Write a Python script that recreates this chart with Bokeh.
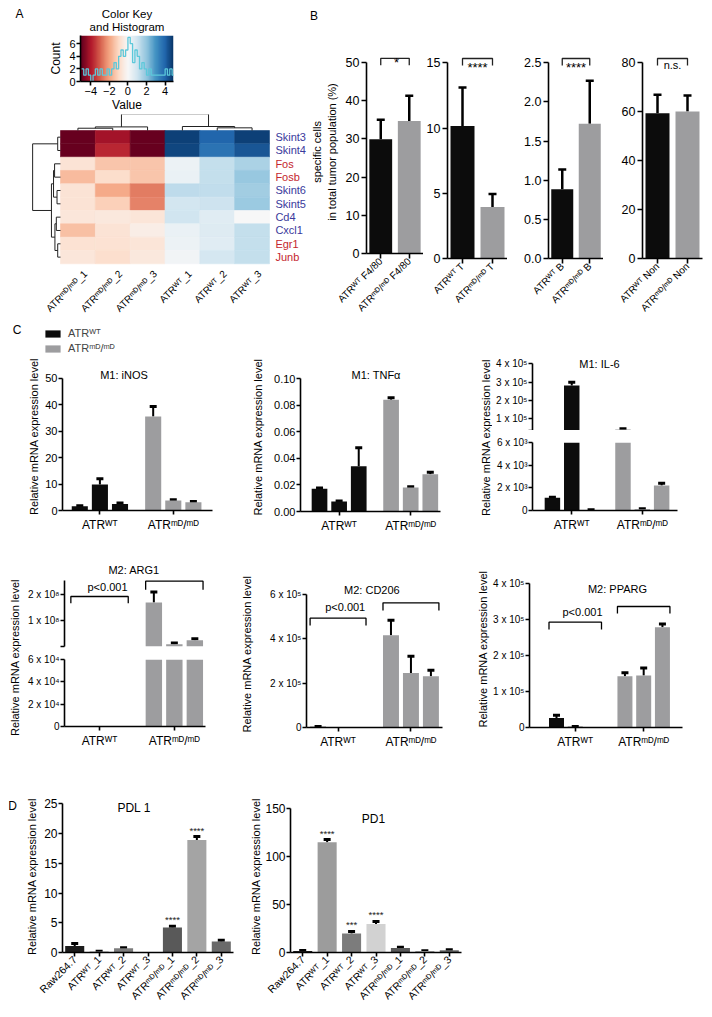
import math
import numpy as np
from bokeh.plotting import figure
from bokeh.layouts import row, column
from bokeh.models import (ColumnDataSource, FactorRange, Range1d, FixedTicker, Whisker,
                          TeeHead, Label, Legend, LegendItem, LinearColorMapper,
                          LinearAxis, CategoricalAxis, Spacer)
from bokeh.transform import linear_cmap
from bokeh.embed import file_html
from bokeh.resources import INLINE
from bokeh.core.properties import value

WT = "ATRᵂᵀ"
MD = "ATRᵐᴰ/ᵐᴰ"

# ===================== DATA =====================
# ---- Panel A : heatmap ----
hm_genes = ["Skint3", "Skint4", "Fos", "Fosb", "Skint6", "Skint5", "Cd4", "Cxcl1", "Egr1", "Junb"]
hm_gene_dir = ["blue", "blue", "red", "red", "blue", "blue", "blue", "blue", "red", "red"]
hm_samples = [MD + "_1", MD + "_2", MD + "_3", WT + "_1", WT + "_2", WT + "_3"]
hm_values = [
    [-5.0, -4.2, -5.0, 4.7, 4.0, 4.7],
    [-5.0, -3.8, -5.0, 4.6, 3.7, 4.3],
    [-0.7, -1.4, -1.4, 0.3, 1.2, 1.6],
    [-1.6, -0.9, -1.4, 0.35, 1.2, 1.9],
    [-0.7, -1.9, -2.6, 1.3, 1.25, 1.75],
    [-0.7, -1.2, -2.5, 0.95, 1.05, 1.85],
    [-0.6, -0.55, -0.65, 1.0, 0.6, 0.0],
    [-1.5, -0.7, -0.35, 0.35, 0.65, 1.2],
    [-0.75, -0.75, -0.65, 0.3, 0.6, 1.2],
    [-0.6, -0.85, -0.55, 0.15, 0.9, 1.2],
]
hist_start = -5.0
hist_step = 0.25
hist_counts = [2, 1, 2, 1, 0, 1, 2, 1, 2, 1, 1, 2, 1, 2, 3, 2, 4, 5, 4, 5,
               7, 6, 3, 5, 4, 2, 3, 2, 1, 2, 1, 1, 1, 1, 1, 1, 2, 1, 2, 1]
# (child a, child b, merge height) ; sample columns
col_linkage = [(0, 1, 0.17), (6, 2, 0.27), (4, 5, 0.2), (3, 8, 0.3), (7, 9, 1.24)]
# gene rows
row_linkage = [(0, 1, 0.08), (2, 3, 0.17), (4, 5, 0.1), (11, 12, 0.2), (6, 7, 0.12),
               (8, 9, 0.08), (14, 15, 0.16), (13, 16, 0.26), (10, 17, 0.8)]

# ---- Panel B ----
b_cells = ["F4/80", "T", "B", "Non"]
b_wt = [29.9, 10.15, 0.886, 59.4]
b_wt_err = [5.1, 2.95, 0.25, 7.5]
b_md = [34.7, 3.95, 1.72, 60.1]
b_md_err = [6.6, 1.0, 0.55, 6.5]
b_sig = ["*", "****", "****", "n.s."]
b_ymax = [50, 15, 2.5, 80]
b_ticks = [[0, 10, 20, 30, 40, 50], [0, 5, 10, 15], [0, 0.5, 1, 1.5, 2, 2.5], [0, 20, 40, 60, 80]]
b_tick_labels = [None, None, ["0.0", "0.5", "1.0", "1.5", "2.0", "2.5"], None]

# ---- Panel C ----
c_groups = [WT, MD]
inos_wt, inos_wt_err = [1.6, 9.8, 2.5], [0.2, 2.2, 0.3]
inos_md, inos_md_err = [35.5, 3.8, 3.1], [3.8, 0.3, 0.3]
tnf_wt, tnf_wt_err = [0.0171, 0.0075, 0.034], [0.0005, 0.0004, 0.014]
tnf_md, tnf_md_err = [0.084, 0.018, 0.028], [0.0015, 0.0007, 0.0015]
il6_wt, il6_wt_err = [1115.0, 282000.0, 50.0], [60.0, 18000.0, 10.0]
il6_md, il6_md_err = [42000.0, 120.0, 2200.0], [3000.0, 30.0, 200.0]
arg1_wt, arg1_wt_err = [8.0, 5.0, 6.0], [0.0, 0.0, 0.0]
arg1_md, arg1_md_err = [1.69e8, 0.09e8, 0.24e8], [0.41e8, 0.05e8, 0.06e8]
cd206_wt, cd206_wt_err = [3000.0, 300.0, 200.0], [1000.0, 0.0, 0.0]
cd206_md, cd206_md_err = [4.16e5, 2.46e5, 2.31e5], [0.68e5, 0.75e5, 0.27e5]
pparg_wt, pparg_wt_err = [0.26e5, 0.02e5, 0.004e5], [0.08e5, 0.005e5, 0.0]
pparg_md, pparg_md_err = [1.42e5, 1.44e5, 2.78e5], [0.10e5, 0.21e5, 0.09e5]

# ---- Panel D ----
d_samples = ["Raw264.7", WT + "_1", WT + "_2", WT + "_3", MD + "_1", MD + "_2", MD + "_3"]
pdl1 = [1.1, 0.15, 0.7, 0.0, 4.2, 18.9, 1.85]
pdl1_err = [0.4, 0.05, 0.1, 0.0, 0.2, 0.6, 0.2]
pdl1_sig = ["", "", "", "", "****", "****", ""]
pd1 = [1.5, 115.0, 19.9, 29.7, 4.6, 1.5, 2.3]
pd1_err = [0.5, 2.9, 2.1, 2.7, 0.9, 0.3, 0.5]
pd1_sig = ["", "****", "***", "****", "", "", ""]

# ===================== STYLE / HELPERS =====================
FONT = "Liberation Sans"
BLACK = "#0c0c0c"
GREY = "#9d9d9f"
D_COLORS = ["#1c1c1c", "#9c9c9c", "#7c7c7c", "#d2d2d2", "#595959", "#a4a4a4", "#6a6a6a"]
GENE_COLORS = {"blue": "#3a3a9c", "red": "#c4262e"}
RDBU = ['#67001f', '#b2182b', '#d6604d', '#f4a582', '#fddbc7', '#f7f7f7',
        '#d1e5f0', '#92c5de', '#4393c3', '#2166ac', '#053061']


def interp_palette(anchors, n):
    rgb = np.array([[int(c[i:i + 2], 16) for i in (1, 3, 5)] for c in anchors], float)
    out = []
    for tt in np.linspace(0, len(anchors) - 1, n):
        i = min(int(tt), len(anchors) - 2)
        f = tt - i
        c = rgb[i] * (1 - f) + rgb[i + 1] * f
        out.append('#%02x%02x%02x' % tuple(int(round(v)) for v in c))
    return out


PAL = interp_palette(RDBU, 201)


def mkfig(fx, fy, fr, xr, yr):
    x0, x1 = fx
    y0, y1 = fy
    l, r, t, b = fr
    p = figure(width=x1 - x0, height=y1 - y0, x_range=xr, y_range=yr,
               x_axis_type=None, y_axis_type=None, title=None,
               output_backend="svg", toolbar_location=None,
               min_border_left=l - x0, min_border_right=x1 - r,
               min_border_top=t - y0, min_border_bottom=y1 - b)
    try:
        p.frame_align = False
    except Exception:
        pass
    p.outline_line_color = None
    p.background_fill_color = "white"
    p.border_fill_color = "white"
    g = dict(l=l, r=r, t=t, b=b)
    if isinstance(yr, Range1d):
        g["yr"] = (yr.start, yr.end)
    return p, g


def strip(fx, fy):
    return mkfig(fx, fy, (fx[0], fx[1], fy[0], fy[1]), Range1d(0, 1), Range1d(0, 1))


def ydat(g, py):
    y0, y1 = g["yr"]
    return y0 + (g["b"] - py) * (y1 - y0) / (g["b"] - g["t"])


def txt(p, g, text, cx, cy, size="11px", align="center", baseline="middle", angle=0.0,
        color="black"):
    p.add_layout(Label(x=cx - g["l"], y=g["b"] - cy, x_units="screen", y_units="screen",
                       text=text, text_font=FONT, text_font_size=size, text_align=align,
                       text_baseline=baseline, angle=angle, text_color=color))


def style_axis(ax, tick_size="11px", label_size="11px"):
    ax.axis_line_width = 1.6
    ax.axis_line_color = "black"
    ax.major_tick_line_width = 1.6
    ax.major_tick_line_color = "black"
    ax.major_tick_in = 0
    ax.major_tick_out = 4
    ax.minor_tick_line_color = None
    ax.major_label_text_font = FONT
    ax.major_label_text_font_size = tick_size
    ax.major_label_text_color = "black"
    ax.major_label_standoff = 1
    ax.axis_label_text_font = FONT
    ax.axis_label_text_font_size = label_size
    ax.axis_label_text_font_style = "normal"
    ax.axis_label_text_color = "black"
    ax.axis_label_standoff = 2


def add_yaxis(p, ticks, labels=None, bounds=None, label=None, tick_size="11px", standoff=2):
    ax = LinearAxis(ticker=FixedTicker(ticks=ticks))
    style_axis(ax, tick_size)
    if labels is not None:
        ax.major_label_overrides = dict(zip(ticks, labels))
    if bounds is not None:
        ax.bounds = bounds
    if label:
        ax.axis_label = label
        ax.axis_label_standoff = standoff
    p.add_layout(ax, "left")
    return ax


ROW1_END = 320

# ===================== PANEL A =====================
atitle, gat = strip((8, 308), (8, 33))
txt(atitle, gat, "A", 19, 13, size="12px")
txt(atitle, gat, "Color Key", 126.5, 13.5, size="11.5px")
txt(atitle, gat, "and Histogram", 126.5, 26.5, size="11.5px")

ck, gck = mkfig((8, 308), (33, 114), (80, 173, 35, 81), Range1d(-5.1, 4.9), Range1d(0, 7.3))
ramp = np.linspace(-5.1, 4.9, 300).reshape(1, -1)
ck.image(image=[ramp], x=-5.1, y=0, dw=10, dh=7.3,
         color_mapper=LinearColorMapper(palette=PAL, low=-5, high=5))
edges = [hist_start + hist_step * i for i in range(len(hist_counts) + 1)]
ck.step(x=edges, y=hist_counts + [hist_counts[-1]], mode="after", line_color="#5cc8da",
        line_width=1.3)
a1 = add_yaxis(ck, [0, 2, 4, 6], label="Count", standoff=3)
a1.axis_label_text_font_size = "12px"
ax = LinearAxis(ticker=FixedTicker(ticks=[-4, -2, 0, 2, 4]), axis_label="Value")
style_axis(ax, "11px", "12px")
ax.axis_label_standoff = 0
ck.add_layout(ax, "below")

HM_L, HM_B, CPX, RPX = 60.0, 263.3, 34.83, 13.33
hm, ghm = mkfig((8, 308), (114, ROW1_END), (8, 308, 114, ROW1_END),
                Range1d((8 - HM_L) / CPX, (308 - HM_L) / CPX),
                Range1d(-(ROW1_END - HM_B) / RPX, (HM_B - 114) / RPX))
nr, nc = len(hm_genes), len(hm_samples)
cells = dict(x=[], y=[], v=[])
for i in range(nr):
    for j in range(nc):
        cells["x"].append(j + 0.5)
        cells["y"].append(nr - 0.5 - i)
        cells["v"].append(hm_values[i][j])
cmap = linear_cmap("v", PAL, -5, 5)
hm.rect(x="x", y="y", width=1, height=1, source=ColumnDataSource(cells),
        fill_color=cmap, line_color=cmap, line_width=0.6)


def dendro(links, n, leafpos):
    pos = {i: (leafpos(i), 0.0) for i in range(n)}
    xs, hs = [], []
    for k, (a, b, h) in enumerate(links):
        pa, ha = pos[a]
        pb, hb = pos[b]
        xs.append([pa, pa, pb, pb])
        hs.append([ha, h, h, hb])
        pos[n + k] = ((pa + pb) / 2.0, h)
    return xs, hs


cx_, ch_ = dendro(col_linkage, nc, lambda i: i + 0.5)
hm.multi_line(xs=cx_, ys=[[nr + h for h in hh] for hh in ch_], line_color="#222222",
              line_width=1)
ry_, rh_ = dendro(row_linkage, nr, lambda i: nr - 0.5 - i)
hm.multi_line(xs=[[-h for h in hh] for hh in rh_], ys=ry_, line_color="#222222", line_width=1)
hm.text(x=[nc + 0.17] * nr, y=[nr - 0.5 - i for i in range(nr)], text=hm_genes,
        text_color=[GENE_COLORS[d] for d in hm_gene_dir], text_font=value(FONT),
        text_font_size="11px", text_align="left", text_baseline="middle")
hm.text(x=[j + 0.72 for j in range(nc)], y=[-0.62] * nc, text=hm_samples, angle=math.pi / 4,
        text_font=value(FONT), text_font_size="10px", text_align="right",
        text_baseline="middle", text_color="black")

# ===================== PANEL B =====================
B_T, B_B, B_AX = 50, 258, 62.3


def b_plot(fx, fy, fl, fr_, idx):
    f_wt = f"{WT} {b_cells[idx]}"
    f_md = f"{MD} {b_cells[idx]}"
    ymax = b_ymax[idx]
    top = ymax * (B_B - B_T) / (B_B - B_AX)
    p, g = mkfig(fx, fy, (fl, fr_, B_T, B_B), FactorRange(factors=[f_wt, f_md]),
                 Range1d(0, top))
    src = ColumnDataSource(dict(x=[f_wt, f_md], top=[b_wt[idx], b_md[idx]],
                                up=[b_wt[idx] + b_wt_err[idx], b_md[idx] + b_md_err[idx]],
                                c=[BLACK, GREY]))
    p.vbar(x="x", top="top", width=0.8, fill_color="c", line_color=None, source=src)
    p.add_layout(Whisker(source=src, base="x", lower="top", upper="up", dimension="height",
                         line_width=2.5, line_color="black", lower_head=None,
                         upper_head=TeeHead(size=8, line_width=2.5, line_color="black")))
    yt, yb = ydat(g, 58), ydat(g, 65)
    p.line(x=[f_wt, f_wt, f_md, f_md], y=[yb, yt, yt, yb], line_color="#222222",
           line_width=1.3)
    sig = b_sig[idx]
    txt(p, g, sig, (fl + fr_) / 2.0, 59.5 if sig != "n.s." else 58.5,
        size="13px" if sig != "n.s." else "11px", baseline="top")
    ay = add_yaxis(p, b_ticks[idx], labels=b_tick_labels[idx], bounds=(0, ymax),
                   tick_size="12.5px")
    ay.major_tick_out = 5
    ay.major_label_standoff = 2
    xa = CategoricalAxis()
    style_axis(xa, "10px")
    xa.major_label_orientation = math.pi / 4
    xa.major_tick_out = 5
    xa.major_label_standoff = 1
    p.add_layout(xa, "below")
    return p, g, ay


bstrip, gbs = strip((308, 423), (8, 28))
txt(bstrip, gbs, "B", 313.5, 15.5, size="12px")
b1, gb1, ayb1 = b_plot((308, 423), (28, ROW1_END), 363, 423, 0)
ayb1.axis_label = "specific cells\nin total tumor population (%)"
ayb1.axis_label_standoff = 5
b2, _, _ = b_plot((423, 507), (8, ROW1_END), 447, 507, 1)
b3, _, _ = b_plot((507, 603), (8, ROW1_END), 548, 603, 2)
b4, _, _ = b_plot((603, 704), (8, ROW1_END), 642, 702, 3)

# ===================== PANEL C =====================
XPOS = [0, 1, 2, 3.65, 4.65, 5.65]
GROUP_TICKS = [1, 4.65]
BR_WT, BR_MD = (-0.4, 2.4), (3.25, 6.05)
YLAB = "Relative mRNA expression level"


def c_bars(p, wt, wte, md, mde, ylo, yhi):
    tops = wt + md
    errs = wte + mde
    p.vbar(x=XPOS, top=tops, bottom=0, width=0.8, fill_color=[BLACK] * 3 + [GREY] * 3,
           line_color=None)
    keep = [i for i in range(6) if errs[i] > 0 and tops[i] >= ylo and tops[i] + errs[i] <= yhi]
    src = ColumnDataSource(dict(x=[XPOS[i] for i in keep], lo=[tops[i] for i in keep],
                                hi=[tops[i] + errs[i] for i in keep]))
    p.add_layout(Whisker(source=src, base="x", lower="lo", upper="hi", dimension="height",
                         line_width=2, line_color="black", lower_head=None,
                         upper_head=TeeHead(size=7, line_width=3, line_color="black")))


def c_xaxis(p):
    ax = LinearAxis(ticker=FixedTicker(ticks=GROUP_TICKS))
    style_axis(ax, "12px")
    ax.major_label_overrides = {GROUP_TICKS[0]: c_groups[0], GROUP_TICKS[1]: c_groups[1]}
    ax.major_label_standoff = 3
    p.add_layout(ax, "below")


def bracket(p, g, xs, top_px, end_px):
    yt, yb = ydat(g, top_px), ydat(g, end_px)
    p.line(x=[xs[0], xs[0], xs[1], xs[1]], y=[yb, yt, yt, yb], line_color="black",
           line_width=1.3)


def sci(m, e):
    return f"{m} x 10" + {3: "³", 4: "⁴", 5: "⁵", 8: "⁸"}[e]


# legend strip
leg, gleg = strip((8, 238), (ROW1_END, 356))
r_wt = leg.vbar(x=[0.5], top=[0], bottom=[0], width=0.01, fill_color=BLACK, line_color=None)
r_md = leg.vbar(x=[0.5], top=[0], bottom=[0], width=0.01, fill_color=GREY, line_color=None)
lg = Legend(items=[LegendItem(label=c_groups[0], renderers=[r_wt]),
                   LegendItem(label=c_groups[1], renderers=[r_md])],
            location=(35, 2), glyph_width=19, glyph_height=9, label_height=9, spacing=3,
            padding=0, margin=0, border_line_color=None, background_fill_alpha=0,
            label_text_font=FONT, label_text_font_size="11px", label_standoff=6)
leg.add_layout(lg)
txt(leg, gleg, "C", 16.5, 329, size="12px")

# iNOS
inos, gi = mkfig((8, 238), (356, 556), (62, 212, 362, 510), Range1d(-0.86, 6.6),
                 Range1d(0, 50 + (377.7 - 362) / 2.646))
c_bars(inos, inos_wt, inos_wt_err, inos_md, inos_md_err, 0, 1e9)
add_yaxis(inos, [0, 10, 20, 30, 40, 50], bounds=(0, 50), label=YLAB, standoff=2)
c_xaxis(inos)
txt(inos, gi, "M1: iNOS", 123.5, 374)

# TNF
tnf_top = 0.10 + (378 - 362) / 1330.0
tnf, gt = mkfig((238, 474), (ROW1_END, 556), (300, 440, 362, 511), Range1d(-0.97, 6.17),
                Range1d(0, tnf_top))
c_bars(tnf, tnf_wt, tnf_wt_err, tnf_md, tnf_md_err, 0, 1e9)
tk = [0, 0.02, 0.04, 0.06, 0.08, 0.1]
add_yaxis(tnf, tk, labels=["0.00", "0.02", "0.04", "0.06", "0.08", "0.10"], bounds=(0, 0.1),
          label=YLAB, standoff=7)
c_xaxis(tnf)
txt(tnf, gt, "M1: TNFα", 375.6, 374)

# IL-6 (broken axis)
il6_lab, gil = strip((474, 492), (ROW1_END, 556))
txt(il6_lab, gil, YLAB, 485, 437, angle=math.pi / 2)
ppu = 18.33 / 1e5
il6_lo_v = 4e5 - (430 - 363.3) / ppu
il6_hi_v = 4e5 + (363.3 - 352) / ppu
il6u, gu = mkfig((492, 704), (ROW1_END, 430), (532, 677, 352, 430), Range1d(-1.03, 6.47),
                 Range1d(il6_lo_v, il6_hi_v))
c_bars(il6u, il6_wt, il6_wt_err, il6_md, il6_md_err, il6_lo_v, il6_hi_v)
add_yaxis(il6u, [il6_lo_v, 100000, 200000, 300000, 400000],
          labels=["", sci(1, 5), sci(2, 5), sci(3, 5), sci(4, 5)], bounds=(il6_lo_v, 4e5),
          tick_size="10px")
txt(il6u, gu, "M1: IL-6", 599, 363)
il6l, gl = mkfig((492, 704), (430, 556), (532, 677, 442, 510), Range1d(-1.03, 6.47),
                 Range1d(0, 6000))
c_bars(il6l, il6_wt, il6_wt_err, il6_md, il6_md_err, 0, 6000)
add_yaxis(il6l, [0, 2000, 4000, 6000], labels=["0", sci(2, 3), sci(4, 3), sci(6, 3)],
          bounds=(0, 6000), tick_size="10px")
c_xaxis(il6l)

# ARG1 (broken axis)
arg_lab, gal = strip((8, 22), (556, 798))
txt(arg_lab, gal, YLAB, 14, 657, angle=math.pi / 2)
arg_lo_v = 6e4
arg_hi_v = arg_lo_v + (646 - 562) / 26.0 * 1e8
argu, gau = mkfig((22, 238), (556, 649), (64, 205, 562, 646), Range1d(-0.71, 6.17),
                  Range1d(arg_lo_v, arg_hi_v))
c_bars(argu, arg1_wt, arg1_wt_err, arg1_md, arg1_md_err, arg_lo_v, arg_hi_v)
add_yaxis(argu, [arg_lo_v, 100000000, 200000000], labels=["", sci(1, 8), sci(2, 8)],
          bounds=(arg_lo_v, ydat(gau, 580)), tick_size="10px")
txt(argu, gau, "M2: ARG1", 133.6, 569.3)
bracket(argu, gau, BR_WT, 596, 602.7)
bracket(argu, gau, BR_MD, 580.7, 589.3)
txt(argu, gau, "p<0.001", 107, 586)
argl, gall = mkfig((22, 238), (649, 798), (64, 205, 659, 726), Range1d(-0.71, 6.17),
                   Range1d(0, 6e4))
c_bars(argl, arg1_wt, arg1_wt_err, arg1_md, arg1_md_err, 0, 6e4)
add_yaxis(argl, [0, 20000, 40000, 60000], labels=["0", sci(2, 4), sci(4, 4), sci(6, 4)],
          bounds=(0, 6e4), tick_size="10px")
c_xaxis(argl)

# CD206
cd, gcd = mkfig((238, 474), (556, 798), (300, 442, 580, 727), Range1d(-0.58, 6.23),
                Range1d(0, (727 - 580) / 22.17 * 1e5))
c_bars(cd, cd206_wt, cd206_wt_err, cd206_md, cd206_md_err, 0, 1e12)
add_yaxis(cd, [0, 200000, 400000, 600000], labels=["0", sci(2, 5), sci(4, 5), sci(6, 5)],
          bounds=(0, 6e5), label=YLAB, tick_size="10px", standoff=14)
c_xaxis(cd)
txt(cd, gcd, "M2: CD206", 365.4, 589)
bracket(cd, gcd, BR_WT, 617.7, 625)
bracket(cd, gcd, BR_MD, 602.3, 610)
txt(cd, gcd, "p<0.001", 338.7, 606.7)

# PPARG
pp, gpp = mkfig((474, 704), (556, 798), (525, 682, 570, 727), Range1d(-1.44, 6.72),
                Range1d(0, (727 - 570) / 36.1 * 1e5))
c_bars(pp, pparg_wt, pparg_wt_err, pparg_md, pparg_md_err, 0, 1e12)
add_yaxis(pp, [0, 100000, 200000, 300000, 400000],
          labels=["0", sci(1, 5), sci(2, 5), sci(3, 5), sci(4, 5)], bounds=(0, 4e5),
          label=YLAB, tick_size="10px", standoff=1)
c_xaxis(pp)
txt(pp, gpp, "M2: PPARG", 613, 588.3)
bracket(pp, gpp, BR_WT, 621.7, 629)
bracket(pp, gpp, BR_MD, 606, 613)
txt(pp, gpp, "p<0.001", 578, 611)


# ===================== PANEL D =====================
def d_plot(fx, fr, vals, errs, sigs, ymax, ytop, ticks, title, tpos, standoff):
    p, g = mkfig(fx, (798, 1008), fr, FactorRange(factors=d_samples), Range1d(0, ytop))
    src = ColumnDataSource(dict(x=d_samples, top=vals, c=D_COLORS))
    p.vbar(x="x", top="top", width=0.78, fill_color="c", line_color=None, source=src)
    keep = [i for i in range(len(vals)) if errs[i] > 0]
    wsrc = ColumnDataSource(dict(x=[d_samples[i] for i in keep], lo=[vals[i] for i in keep],
                                 hi=[vals[i] + errs[i] for i in keep]))
    p.add_layout(Whisker(source=wsrc, base="x", lower="lo", upper="hi", dimension="height",
                         line_width=2, line_color="black", lower_head=None,
                         upper_head=TeeHead(size=7, line_width=3, line_color="black")))
    off = 6.5 * ytop / (fr[3] - fr[2])
    si = [i for i in range(len(vals)) if sigs[i]]
    p.text(x=[d_samples[i] for i in si], y=[vals[i] + errs[i] + off for i in si],
           text=[sigs[i] for i in si], text_font=value(FONT), text_font_size="9.5px",
           text_align="center", text_baseline="middle", text_color="#222222")
    add_yaxis(p, ticks, bounds=(0, ymax), label=YLAB, tick_size="12px", standoff=standoff)
    xa = CategoricalAxis()
    style_axis(xa, "10.5px")
    xa.major_label_orientation = math.pi / 4
    xa.major_label_standoff = 1
    p.add_layout(xa, "below")
    txt(p, g, title, tpos[0], tpos[1], size="12px")
    return p, g


dstrip, gds = strip((8, 20), (798, 1008))
txt(dstrip, gds, "D", 12, 805, size="12px")
pdl, gpdl = d_plot((20, 238), (62, 233, 800, 953), pdl1, pdl1_err, pdl1_sig, 25,
                   25 + (803.3 - 800) / 6.0, [0, 5, 10, 15, 20, 25], "PDL 1", (133.6, 808), 3)
pdd, gpdd = d_plot((238, 704), (290, 461, 800, 952), pd1, pd1_err, pd1_sig, 150,
                   150 + (808.3 - 800) / 0.956, [0, 50, 100, 150], "PD1", (373, 818), 0)

# ===================== LAYOUT =====================
row1 = row(column(atitle, ck, hm), column(bstrip, b1), b2, b3, b4)
rowc1 = row(column(leg, inos), tnf, il6_lab, column(il6u, il6l))
rowc2 = row(arg_lab, column(argu, argl), cd, pp)
rowd = row(dstrip, pdl, pdd)
body = column(row1, rowc1, rowc2, rowd)
layout = column(Spacer(width=704, height=8), row(Spacer(width=8, height=1000), body))

open("out.html", "w").write(file_html(layout, INLINE))
